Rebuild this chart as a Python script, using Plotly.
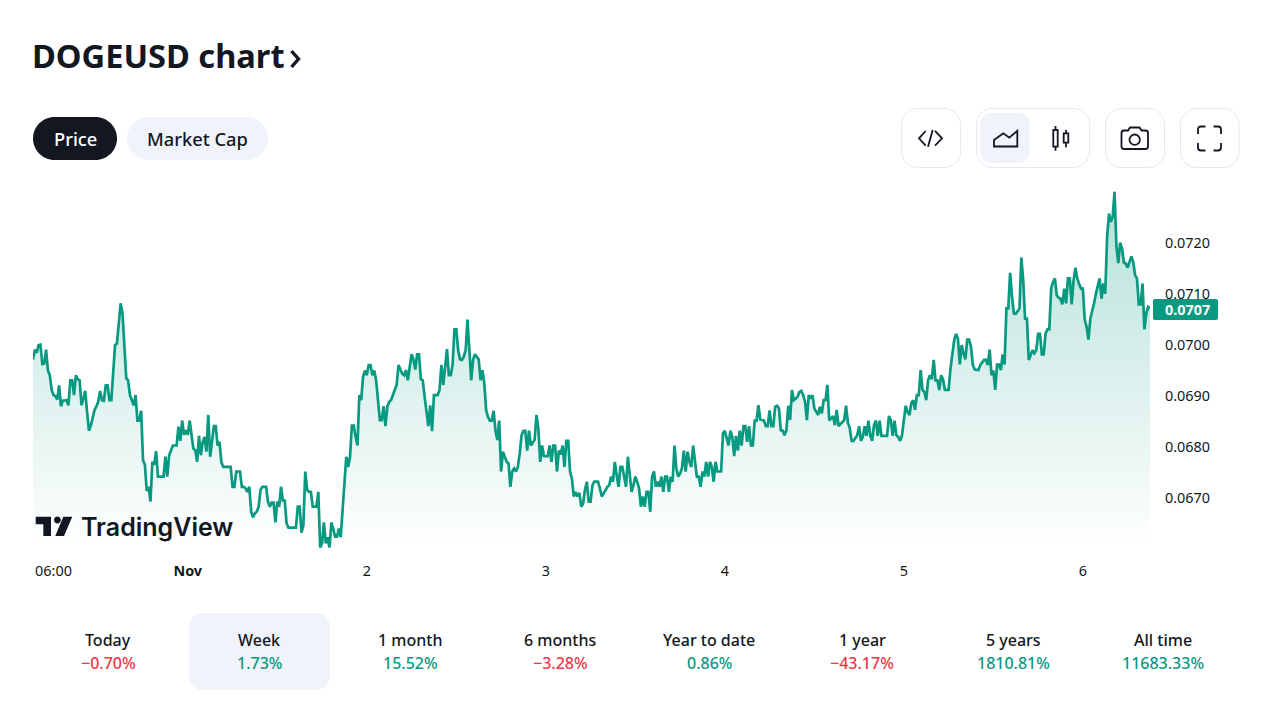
import numpy as np
import pandas as pd
import plotly.graph_objects as go

# DOGEUSD 15 minute closes, one list per calendar day
oct_31 = [.06972, .06991, .06985, .07000, .07001, .06963, .06964, .06991, .06951, .06941, .06912, .06902,
          .06900, .06893, .06921, .06880, .06891, .06892, .06892, .06882, .06931, .06931, .06902, .06941,
          .06933, .06931, .06882, .06895, .06910, .06869, .06832, .06842, .06861, .06873, .06880, .06889,
          .06910, .06892, .06891, .06921, .06921, .06892, .06892, .06938, .07000, .07003, .07042, .07082,
          .07062, .06990, .06935, .06931, .06902, .06892, .06882, .06902, .06852, .06852, .06871, .06774,
          .06765, .06714, .06722, .06693, .06771, .06765, .06792, .06742, .06742, .06742, .06742, .06781,
          .06742, .06784, .06794, .06803, .06803, .06803, .06840, .06812, .06852, .06824, .06833]
nov_1 = [.06824, .06852, .06820, .06797, .06794, .06771, .06822, .06784, .06810, .06820, .06791, .06863,
         .06781, .06807, .06841, .06841, .06803, .06810, .06771, .06761, .06761, .06761, .06761, .06761,
         .06722, .06722, .06752, .06752, .06752, .06722, .06722, .06719, .06712, .06722, .06673, .06662,
         .06670, .06673, .06683, .06716, .06722, .06722, .06722, .06693, .06683, .06691, .06691, .06652,
         .06693, .06683, .06722, .06695, .06695, .06650, .06642, .06642, .06642, .06642, .06642, .06683,
         .06683, .06632, .06647, .06752, .06716, .06712, .06712, .06683, .06683, .06683, .06712, .06603,
         .06611, .06652, .06611, .06623, .06603, .06652, .06640, .06624, .06624, .06640, .06623, .06676,
         .06722, .06781, .06761, .06781, .06842, .06842, .06820, .06803, .06902, .06892, .06938, .06950]
nov_2 = [.06941, .06961, .06961, .06941, .06950, .06931, .06892, .06853, .06853, .06880, .06841, .06879,
         .06889, .06892, .06902, .06912, .06922, .06961, .06951, .06944, .06941, .06951, .06931, .06961,
         .06982, .06972, .06952, .06982, .06982, .06933, .06931, .06899, .06863, .06841, .06882, .06831,
         .06902, .06902, .06902, .06912, .06961, .06922, .06964, .06992, .06941, .06941, .06961, .07031,
         .07031, .06990, .06972, .06971, .06977, .06990, .07050, .06990, .06931, .06971, .06982, .06977,
         .06972, .06931, .06951, .06925, .06872, .06859, .06852, .06852, .06871, .06833, .06814, .06852,
         .06752, .06791, .06781, .06771, .06768, .06722, .06752, .06758, .06752, .06761, .06787, .06823,
         .06832, .06832, .06793, .06832, .06803, .06810, .06814, .06863, .06836, .06771, .06803, .06782]
nov_3 = [.06782, .06782, .06803, .06771, .06803, .06803, .06752, .06793, .06786, .06803, .06761, .06812,
         .06812, .06752, .06738, .06703, .06712, .06703, .06710, .06683, .06689, .06716, .06732, .06693,
         .06693, .06725, .06732, .06732, .06732, .06719, .06703, .06709, .06716, .06722, .06725, .06742,
         .06732, .06771, .06745, .06722, .06761, .06761, .06742, .06722, .06781, .06745, .06712, .06725,
         .06742, .06732, .06719, .06683, .06703, .06683, .06712, .06712, .06673, .06742, .06752, .06722,
         .06732, .06722, .06742, .06712, .06742, .06742, .06712, .06742, .06732, .06803, .06758, .06742,
         .06748, .06758, .06793, .06752, .06791, .06771, .06761, .06803, .06771, .06742, .06742, .06722,
         .06752, .06742, .06771, .06742, .06771, .06761, .06732, .06771, .06752, .06752, .06752, .06827]
nov_4 = [.06832, .06817, .06803, .06832, .06820, .06782, .06822, .06793, .06832, .06803, .06841, .06841,
         .06810, .06841, .06803, .06803, .06852, .06852, .06882, .06854, .06853, .06852, .06841, .06841,
         .06872, .06841, .06841, .06879, .06881, .06876, .06833, .06832, .06823, .06833, .06881, .06853,
         .06912, .06892, .06895, .06899, .06908, .06910, .06902, .06889, .06853, .06902, .06895, .06902,
         .06876, .06869, .06863, .06879, .06866, .06892, .06892, .06922, .06852, .06856, .06861, .06843,
         .06873, .06841, .06845, .06850, .06853, .06881, .06848, .06837, .06812, .06812, .06817, .06823,
         .06841, .06812, .06820, .06841, .06822, .06852, .06823, .06812, .06843, .06852, .06822, .06852,
         .06822, .06822, .06822, .06822, .06861, .06853, .06822, .06852, .06823, .06820, .06812, .06823]
nov_5 = [.06853, .06881, .06869, .06863, .06886, .06892, .06873, .06902, .06902, .06951, .06912, .06908,
         .06892, .06931, .06941, .06933, .06971, .06931, .06931, .06912, .06941, .06933, .06912, .06912,
         .06912, .06954, .06980, .07010, .07022, .07013, .06962, .07000, .06984, .06972, .07011, .07011,
         .06997, .06961, .06952, .06951, .06951, .06961, .06965, .06971, .06971, .06961, .06991, .06941,
         .06950, .06912, .06962, .06962, .06951, .06982, .06962, .07072, .07072, .07142, .07095, .07062,
         .07061, .07067, .07072, .07172, .07127, .07052, .07052, .06971, .06980, .06990, .06984, .06990,
         .07022, .07022, .06982, .06982, .07023, .07031, .07031, .07111, .07124, .07131, .07098, .07093,
         .07091, .07080, .07111, .07082, .07131, .07131, .07080, .07127, .07152, .07131, .07120, .07111]
nov_6 = [.07111, .07050, .07036, .07011, .07052, .07065, .07082, .07101, .07114, .07131, .07091, .07121,
         .07101, .07212, .07258, .07242, .07252, .07301, .07193, .07161, .07201, .07190, .07162, .07160,
         .07152, .07163, .07174, .07163, .07137, .07131, .07080, .07080, .07121, .07031, .07062, .07075,
         .07072]

price_ticks = [0.0670, 0.0680, 0.0690, 0.0700, 0.0710, 0.0720]
date_ticks = ["2023-10-31 06:00", "2023-11-01", "2023-11-02", "2023-11-03", "2023-11-04", "2023-11-05", "2023-11-06"]
date_labels = ["06:00", "<b>Nov</b>", "2", "3", "4", "5", "6"]

periods = ["Today", "Week", "1 month", "6 months", "Year to date", "1 year", "5 years", "All time"]
changes = ["−0.70%", "1.73%", "15.52%", "−3.28%", "0.86%", "−43.17%", "1810.81%", "11683.33%"]
period_centers = [108, 259, 410, 560, 709, 862, 1013, 1163]

INK = "#131722"
GREEN = "#089981"
RED = "#f23645"
PALE = "#f0f3fa"
BORDER = "#e6e8ee"
FONT = "Noto Sans"
W, H = 1280, 720


def fx(x):
    return x / W


def fy(y):
    return 1 - y / H


def page_path(d):
    # svg style path given in page pixels, turned into paper fractions
    out = []
    for tok in d.split():
        if "," in tok:
            a, b = tok.split(",")
            out.append(f"{fx(float(a)):.5f},{fy(float(b)):.5f}")
        else:
            out.append(tok)
    return " ".join(out)


def round_box(x0, y0, x1, y1, r):
    k = r * 0.45
    return (f"M {x0 + r},{y0} L {x1 - r},{y0} C {x1 - k},{y0} {x1},{y0 + k} {x1},{y0 + r} "
            f"L {x1},{y1 - r} C {x1},{y1 - k} {x1 - k},{y1} {x1 - r},{y1} "
            f"L {x0 + r},{y1} C {x0 + k},{y1} {x0},{y1 - k} {x0},{y1 - r} "
            f"L {x0},{y0 + r} C {x0},{y0 + k} {x0 + k},{y0} {x0 + r},{y0} Z")


def circle(cx, cy, r):
    k = r * 0.55
    return (f"M {cx - r},{cy} C {cx - r},{cy - k} {cx - k},{cy - r} {cx},{cy - r} "
            f"C {cx + k},{cy - r} {cx + r},{cy - k} {cx + r},{cy} "
            f"C {cx + r},{cy + k} {cx + k},{cy + r} {cx},{cy + r} "
            f"C {cx - k},{cy + r} {cx - r},{cy + k} {cx - r},{cy} Z")


shapes = []


def add_shape(d, fill="rgba(0,0,0,0)", line=None, width=1.0, layer="below"):
    shapes.append(dict(type="path", path=page_path(d), xref="paper", yref="paper", fillcolor=fill,
                       line=dict(color=line or "rgba(0,0,0,0)", width=width), layer=layer))


annotations = []


def add_text(x, y, text, size, color=INK, anchor="center", weight=None, family=FONT):
    annotations.append(dict(x=fx(x), y=fy(y), xref="paper", yref="paper", text=text, showarrow=False,
                            xanchor=anchor, yanchor="middle",
                            font=dict(family=family, size=size, color=color, weight=weight)))


price = np.array(oct_31 + nov_1 + nov_2 + nov_3 + nov_4 + nov_5 + nov_6)
dates = pd.date_range("2023-10-31 03:15", periods=len(price), freq="15min")

fig = go.Figure()
fig.add_trace(go.Scatter(
    x=dates, y=price, mode="lines", line=dict(color=GREEN, width=2.7), fill="tozeroy",
    fillgradient=dict(type="vertical", start=0.0660, stop=0.0730,
                      colorscale=[[0, "rgba(8,153,129,0)"], [1, "rgba(8,153,129,0.30)"]]),
    hoverinfo="skip", showlegend=False,
))

# pills and toolbar
add_shape(round_box(33, 117, 117, 160, 21.5), fill=INK)
add_shape(round_box(127, 117, 268, 160, 21.5), fill=PALE)
add_text(75, 138.5, "Price", 18.3, "#ffffff", weight=500)
add_text(197, 138.5, "Market Cap", 18.3, weight=500)
add_shape(round_box(901.5, 108.5, 960.5, 167.5, 16), line=BORDER)
add_shape(round_box(976.5, 108.5, 1089.5, 167.5, 16), line=BORDER)
add_shape(round_box(980.5, 113, 1029.5, 163, 10), fill=PALE)
add_shape(round_box(1105.5, 108.5, 1164.5, 167.5, 16), line=BORDER)
add_shape(round_box(1180.5, 108.5, 1239, 167.5, 16), line=BORDER)

add_shape("M 925.7,131 L 919,138.3 L 925.7,145.7", line=INK, width=1.8)
add_shape("M 928,146.7 L 932.7,130", line=INK, width=1.8)
add_shape("M 935,131 L 942,138.3 L 935,145.7", line=INK, width=1.8)
add_shape("M 994,146.5 L 994,140 L 1003.3,133.3 L 1009.3,137.7 L 1017.3,130.7 L 1017.3,146.5 Z", line=INK, width=1.8)
add_shape("M 1053.3,130 L 1057.7,130 L 1057.7,146.7 L 1053.3,146.7 Z", line=INK, width=1.8)
add_shape("M 1055.5,126 L 1055.5,130 M 1055.5,146.7 L 1055.5,150.7", line=INK, width=1.8)
add_shape("M 1063.7,133.3 L 1068.3,133.3 L 1068.3,142.7 L 1063.7,142.7 Z", line=INK, width=1.8)
add_shape("M 1066,130 L 1066,133.3 M 1066,142.7 L 1066,147.3", line=INK, width=1.8)
add_shape("M 1124,130.5 L 1128,130.5 L 1130,127.5 L 1139.5,127.5 L 1141.5,130.5 L 1145.5,130.5 "
          "C 1147,130.5 1148,131.5 1148,133 L 1148,146.5 C 1148,148 1147,149 1145.5,149 L 1124,149 "
          "C 1122.5,149 1121.5,148 1121.5,146.5 L 1121.5,133 C 1121.5,131.5 1122.5,130.5 1124,130.5 Z",
          line=INK, width=1.8)
add_shape(circle(1134.7, 139.7, 5.2), line=INK, width=1.8)
add_shape("M 1198,134 L 1198,129.5 C 1198,127.5 1199,126.5 1201,126.5 L 1205.5,126.5", line=INK, width=1.8)
add_shape("M 1213.5,126.5 L 1218,126.5 C 1220,126.5 1221,127.5 1221,129.5 L 1221,134", line=INK, width=1.8)
add_shape("M 1221,143 L 1221,147.5 C 1221,149.5 1220,150.5 1218,150.5 L 1213.5,150.5", line=INK, width=1.8)
add_shape("M 1205.5,150.5 L 1201,150.5 C 1199,150.5 1198,149.5 1198,147.5 L 1198,143", line=INK, width=1.8)

# title
add_text(30, 56, "DOGEUSD chart", 32.6, INK, anchor="left", weight=700)
add_shape("M 291.5,51 L 298.5,59 L 291.5,67", line=INK, width=3.4)

# watermark logo
add_shape("M 35.7,516.7 L 51,516.7 L 51,536 L 43.3,536 L 43.3,524.3 L 35.7,524.3 Z", fill=INK, layer="above")
add_shape(circle(57.4, 520, 3.4), fill=INK, layer="above")
add_shape("M 63.3,516.7 L 72.3,516.7 L 64,536 L 55.3,536 Z", fill=INK, layer="above")
add_text(79, 526.5, "TradingView", 25, INK, anchor="left", weight=600, family="Inter")

# last price badge
add_shape(round_box(1153, 299, 1218, 320, 2), fill=GREEN, layer="above")
add_text(1187.5, 309.5, "0.0707", 14.4, "#ffffff", weight=700, family=FONT)

# period strip
add_shape(round_box(189, 613, 330, 690, 14), fill=PALE)
for name, change, cx in zip(periods, changes, period_centers):
    add_text(cx, 640, name, 16, weight=500)
    add_text(cx, 663, change, 16, RED if change.startswith("−") else GREEN, weight=500)

fig.update_layout(
    width=W, height=H, margin=dict(l=0, r=0, t=0, b=0), autosize=False,
    paper_bgcolor="#ffffff", plot_bgcolor="#ffffff", showlegend=False,
    shapes=shapes, annotations=annotations,
    xaxis=dict(domain=[fx(33), fx(1150)], range=[dates[0], dates[-1]], type="date", showgrid=False,
               zeroline=False, showline=False, tickmode="array", tickvals=date_ticks, ticktext=date_labels,
               ticks="", ticklabelstandoff=11, fixedrange=True,
               tickfont=dict(family=FONT, size=14.4, color=INK)),
    yaxis=dict(domain=[fy(550), fy(180)], range=[0.06598, 0.07324], side="right", showgrid=False,
               zeroline=False, showline=False, tickmode="array", tickvals=price_ticks, tickformat=".4f",
               ticks="", ticklabelstandoff=14, fixedrange=True,
               tickfont=dict(family=FONT, size=14.4, color=INK)),
)

fig.write_html("out.html", config=dict(displayModeBar=False), post_script="document.body.style.margin='0';")
